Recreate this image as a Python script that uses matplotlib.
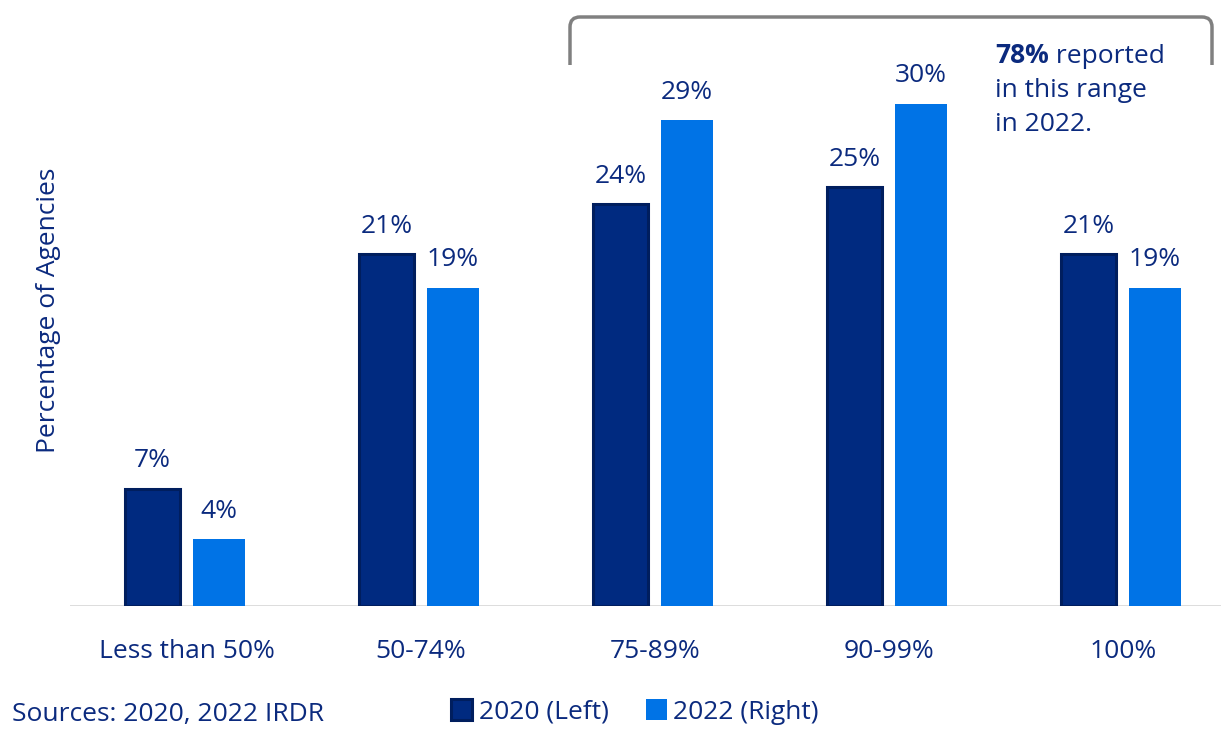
import matplotlib.pyplot as plt
from matplotlib.path import Path
from matplotlib.patches import PathPatch
import numpy as np

plt.rcParams['font.family'] = ['Open Sans', 'DejaVu Sans']

categories = ["Less than 50%", "50-74%", "75-89%", "90-99%", "100%"]
share_2020 = [7, 21, 24, 25, 21]
share_2022 = [4, 19, 29, 30, 19]

navy = "#002A80"
navy_edge = "#001E5E"
blue = "#0073E6"
text_col = "#0B2A7E"
fs = 19

fig = plt.figure(figsize=(12.21, 7.32), dpi=100)
ax = fig.add_axes([70 / 1221, 1 - 606 / 732, 1 - 70 / 1221, 606 / 732])

x = np.arange(len(categories))
b1 = ax.bar(x - 0.147, share_2020, 0.232, color=navy, edgecolor=navy_edge, linewidth=2.2,
            label="2020 (Left)", zorder=3)
b2 = ax.bar(x + 0.137, share_2022, 0.222, color=blue, linewidth=0,
            label="2022 (Right)", zorder=3)

# value labels above each bar
for bars, vals in ((b1, share_2020), (b2, share_2022)):
    for r, v in zip(bars, vals):
        ax.annotate(f"{v}%", (r.get_x() + r.get_width() / 2, v), xytext=(0, 11),
                    textcoords="offset points", ha="center", va="bottom",
                    fontsize=fs, color=text_col)

ax.set_xlim(-0.5, 4.419)
ax.set_ylim(0, 606 / 16.75)
for s in ax.spines.values():
    s.set_visible(False)
ax.axhline(0, color="#D9D9D9", linewidth=2, zorder=2)
ax.set_yticks([])
ax.set_xticks(x)
ax.set_xticklabels(categories, fontsize=fs, color=text_col)
ax.tick_params(axis="x", length=0, pad=24)
ax.set_ylabel("Percentage of Agencies", fontsize=fs, color=text_col)
ax.yaxis.set_label_coords(-9 / 1151, 0.488)

# bracket over the 75-99% groups
fx = lambda px: px / 1221
fy = lambda py: 1 - py / 732
r = 10
verts = [(fx(570), fy(65)), (fx(570), fy(17 + r)), (fx(570), fy(17)), (fx(570 + r), fy(17)),
         (fx(1212 - r), fy(17)), (fx(1212), fy(17)), (fx(1212), fy(17 + r)), (fx(1212), fy(65))]
codes = [Path.MOVETO, Path.LINETO, Path.CURVE3, Path.CURVE3,
         Path.LINETO, Path.CURVE3, Path.CURVE3, Path.LINETO]
fig.patches.append(PathPatch(Path(verts, codes), transform=fig.transFigure,
                             fill=False, edgecolor="#808080", linewidth=2.5))

bold = fig.text(fx(995), fy(63), "78%", fontsize=fs, color=text_col, va="baseline",
                fontweight="bold")
ax.annotate(" reported", xy=(1, 0), xycoords=bold, va="bottom", ha="left",
            fontsize=fs, color=text_col, annotation_clip=False)
fig.text(fx(995), fy(97), "in this range", fontsize=fs, color=text_col, va="baseline")
fig.text(fx(995), fy(131), "in 2022.", fontsize=fs, color=text_col, va="baseline")

fig.text(fx(12), fy(714), "Sources: 2020, 2022 IRDR", fontsize=fs, color=text_col, va="center")

leg = fig.legend(handles=[b1, b2], loc="center", bbox_to_anchor=(fx(635), fy(712)),
                 ncol=2, frameon=False, fontsize=fs, handlelength=0.8, handleheight=0.8,
                 handletextpad=0.25, columnspacing=1.4, borderpad=0)
for t in leg.get_texts():
    t.set_color(text_col)

fig.savefig("out.png", dpi=100)
